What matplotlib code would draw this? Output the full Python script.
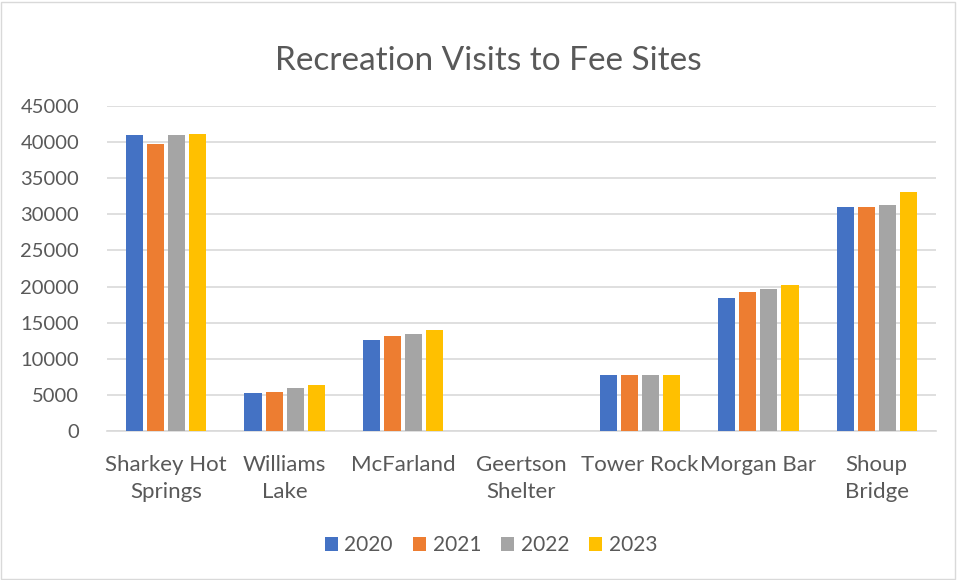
import numpy as np
import matplotlib.pyplot as plt
from matplotlib.patches import Rectangle

sites = ['Sharkey Hot\nSprings', 'Williams\nLake', 'McFarland', 'Geertson\nShelter',
         'Tower Rock', 'Morgan Bar', 'Shoup\nBridge']
years = ['2020', '2021', '2022', '2023']
v2020 = [41000, 5300, 12550, 0, 7800, 18400, 31000]
v2021 = [39800, 5450, 13100, 0, 7800, 19200, 31000]
v2022 = [41000, 6000, 13400, 0, 7800, 19650, 31300]
v2023 = [41150, 6400, 14050, 0, 7800, 20200, 33100]
colors = ['#4472C4', '#ED7D31', '#A5A5A5', '#FFC000']

plt.rcParams['font.family'] = ['Lato', 'DejaVu Sans']
txt = '#595959'

fig = plt.figure(figsize=(9.57, 5.8), dpi=100)
fig.patches.append(Rectangle((0.001, 0.002), 0.997, 0.995, transform=fig.transFigure,
                             fill=False, edgecolor='#D9D9D9', linewidth=1))
ax = fig.add_axes([0.1118, 0.2569, 0.8662, 0.5603])

x = np.arange(len(sites))
w = 0.145
step = 0.178
for i, (yr, vals) in enumerate(zip(years, [v2020, v2021, v2022, v2023])):
    ax.bar(x + (i - 1.5) * step, vals, width=w, color=colors[i], label=yr, zorder=3)

ax.set_xlim(-0.5, len(sites) - 0.5)
ax.set_ylim(0, 45000)
ax.set_yticks(range(0, 45001, 5000))
ax.yaxis.grid(True, color='#D9D9D9', linewidth=1.2, zorder=0)
ax.set_axisbelow(True)
for s in ['top', 'right', 'left']:
    ax.spines[s].set_visible(False)
ax.spines['bottom'].set_color('#D9D9D9')
ax.spines['bottom'].set_linewidth(1.2)
ax.tick_params(length=0, colors=txt)
ax.tick_params(axis='y', pad=20, labelsize=14.5)
ax.tick_params(axis='x', pad=17, labelsize=16)
ax.set_xticks(x)
ax.set_xticklabels(sites, linespacing=1.45)

fig.suptitle('Recreation Visits to Fee Sites', x=0.51, y=0.92, fontsize=24, color=txt)
leg = fig.legend(loc='center', bbox_to_anchor=(0.513, 0.06), ncol=4, frameon=False,
                 fontsize=15, handlelength=0.65, handleheight=0.65, handletextpad=0.3,
                 columnspacing=0.95)
for t in leg.get_texts():
    t.set_color(txt)

fig.savefig('out.png', dpi=100)
